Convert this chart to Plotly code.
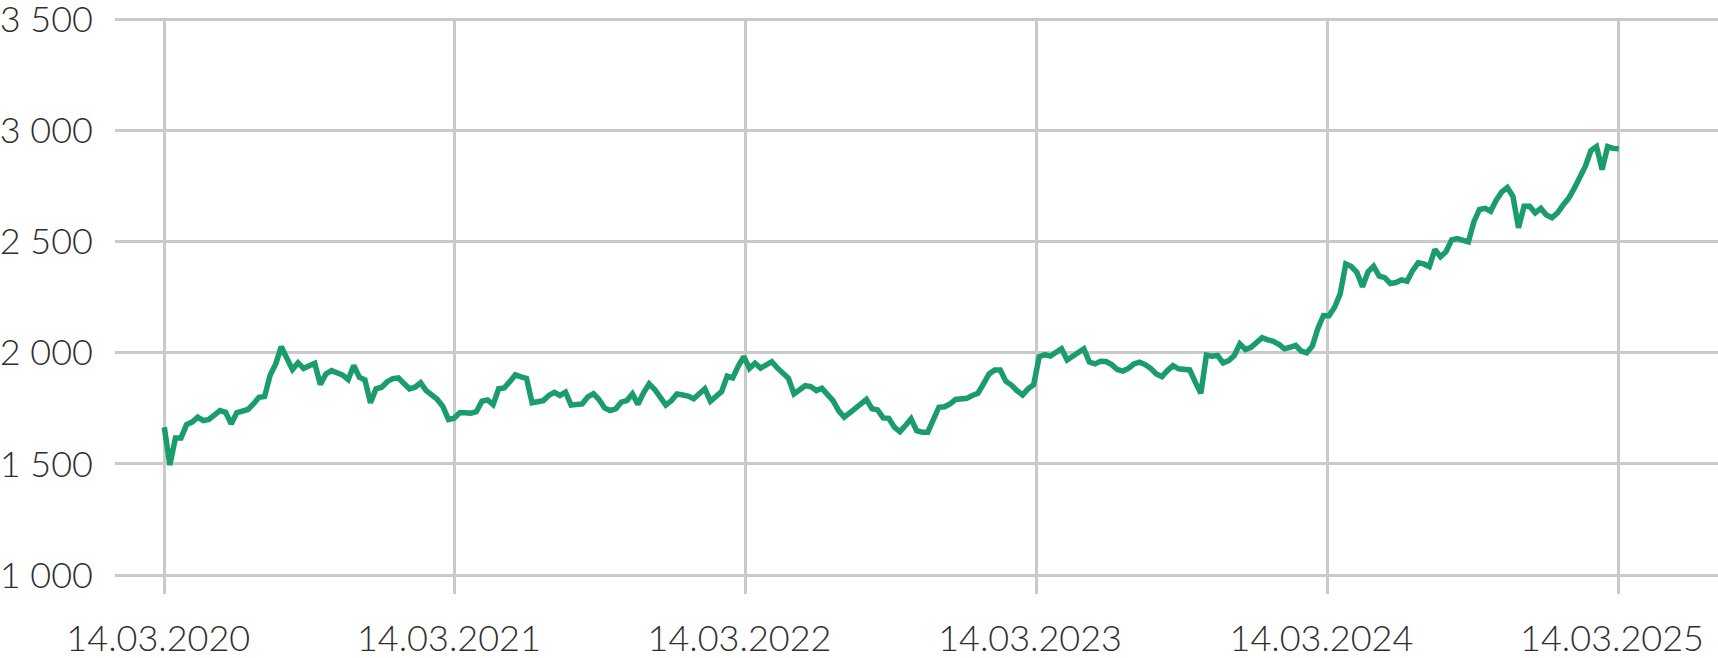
import pandas as pd
import plotly.graph_objects as go

# Weekly index values
values_2020 = [1665, 1495, 1617, 1617, 1677, 1688, 1710, 1695, 1700, 1722, 1740, 1732, 1680,
               1730, 1737, 1745, 1770, 1800, 1803, 1900, 1950, 2028, 1975, 1925, 1955, 1930,
               1942, 1953, 1857, 1905, 1920, 1913, 1900, 1880, 1943, 1890, 1878, 1775, 1838,
               1845, 1870, 1884, 1887, 1862, 1838, 1845, 1865, 1830, 1808, 1790, 1758, 1700, 1706]
values_2021 = [1730, 1730, 1728, 1735, 1782, 1788, 1767, 1838, 1842, 1870, 1901, 1892, 1885,
               1775, 1780, 1785, 1808, 1822, 1808, 1823, 1765, 1770, 1770, 1802, 1816, 1790,
               1752, 1740, 1748, 1778, 1785, 1815, 1768, 1820, 1860, 1835, 1800, 1765, 1785,
               1815, 1810, 1805, 1793, 1815, 1838, 1782, 1800, 1825, 1895, 1887, 1940, 1983]
values_2022 = [1930, 1953, 1931, 1943, 1960, 1932, 1910, 1885, 1815, 1835, 1852, 1848, 1830,
               1840, 1815, 1785, 1740, 1710, 1730, 1748, 1770, 1790, 1748, 1743, 1707, 1705,
               1665, 1645, 1673, 1703, 1650, 1643, 1643, 1700, 1755, 1757, 1770, 1790, 1793,
               1795, 1808, 1818, 1860, 1905, 1923, 1923, 1872, 1855, 1830, 1810, 1838, 1857]
values_2023 = [1982, 1992, 1985, 2005, 2018, 1968, 1985, 2005, 2018, 1958, 1950, 1962, 1961,
               1947, 1925, 1918, 1930, 1950, 1958, 1947, 1930, 1905, 1893, 1920, 1942, 1928,
               1928, 1923, 1868, 1818, 1990, 1985, 1988, 1955, 1965, 1988, 2040, 2015, 2025,
               2048, 2068, 2058, 2052, 2038, 2018, 2025, 2033, 2008, 2000, 2030, 2110, 2168]
values_2024 = [2167, 2205, 2265, 2400, 2388, 2362, 2297, 2365, 2390, 2345, 2338, 2312, 2316,
               2328, 2322, 2370, 2405, 2400, 2388, 2465, 2432, 2455, 2508, 2514, 2508, 2499,
               2590, 2645, 2650, 2637, 2687, 2724, 2744, 2705, 2563, 2660, 2660, 2630, 2650,
               2620, 2608, 2630, 2665, 2695, 2740, 2795, 2840, 2910, 2928, 2825, 2928, 2920, 2918]

values = values_2020 + values_2021 + values_2022 + values_2023 + values_2024
start_date = "2020-03-14"
dates = pd.date_range(start_date, periods=len(values), freq="7D")

x_ticks = ["2020-03-14", "2021-03-14", "2022-03-14", "2023-03-14", "2024-03-14", "2025-03-14"]
x_tick_labels = ["14.03.2020", "14.03.2021", "14.03.2022", "14.03.2023", "14.03.2024", "14.03.2025"]
y_ticks = [1000, 1500, 2000, 2500, 3000, 3500]
y_tick_labels = ["1 000", "1 500", "2 000", "2 500", "3 000", "3 500"]

LINE = "#1a9d6b"
GRID = "#cacaca"
TEXT = "#2e2e2e"

fig = go.Figure()
fig.add_trace(go.Scatter(
    x=dates, y=values, mode="lines",
    line=dict(color=LINE, width=5.5),
    hoverinfo="skip",
))

font = dict(family="Lato, 'Open Sans', sans-serif", size=36, color=TEXT, weight=300)

fig.update_layout(
    width=1718, height=658,
    margin=dict(l=115, r=0, t=17.5, b=64),
    paper_bgcolor="white", plot_bgcolor="white",
    showlegend=False,
    font=font,
    xaxis=dict(
        type="date",
        range=["2020-01-12 02:00", "2025-07-17 14:00"],
        tickvals=x_ticks, ticktext=x_tick_labels,
        showgrid=True, gridcolor=GRID, gridwidth=2.5,
        zeroline=False, showline=False, ticks="",
        ticklabelstandoff=20, ticklabelshift=-6,
        tickfont=font, automargin=False, ticklabeloverflow="allow",
    ),
    yaxis=dict(
        range=[914.6, 3506.7],
        tickvals=y_ticks, ticktext=y_tick_labels,
        showgrid=True, gridcolor=GRID, gridwidth=2.5,
        zeroline=False, showline=False, ticks="",
        ticklabelstandoff=21,
        tickfont=font, automargin=False, ticklabeloverflow="allow",
    ),
)

fig.write_html(
    "out.html",
    config={"displayModeBar": False},
    post_script="document.body.style.margin='0';document.body.style.overflow='hidden';",
)
